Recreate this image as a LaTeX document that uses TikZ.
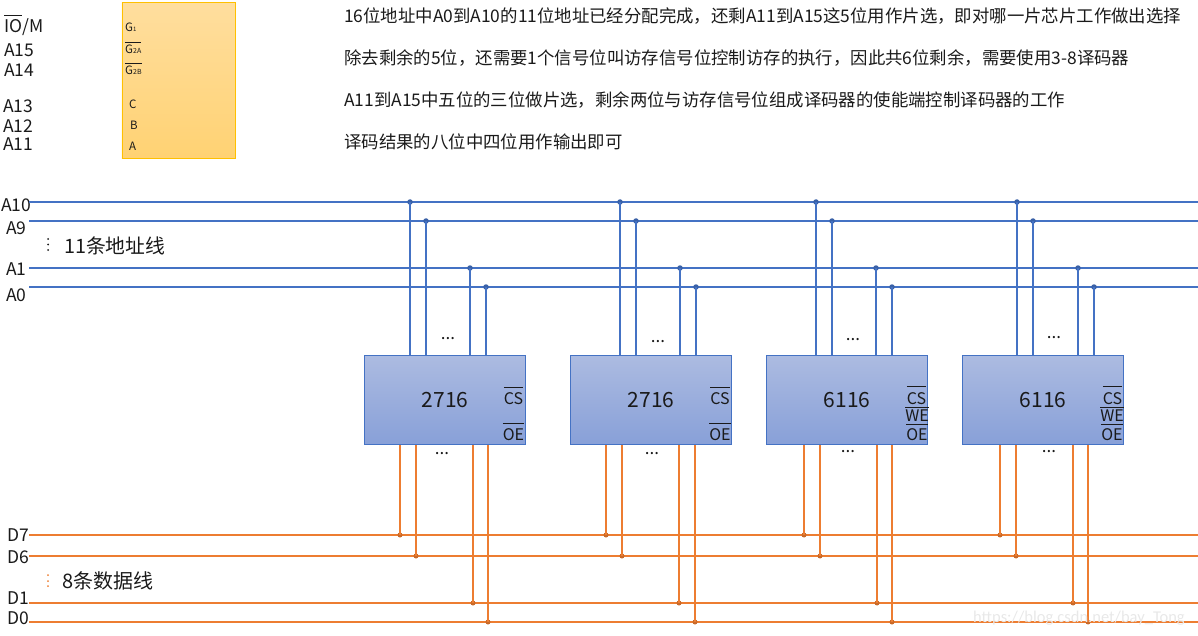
\documentclass[tikz,border=0pt]{standalone}
\usepackage{fontspec}
\setmainfont{Noto Sans CJK SC}
\newfontfamily\latinf{Carlito}
\usetikzlibrary{calc}
\definecolor{busblue}{HTML}{4472C4}
\definecolor{busorange}{HTML}{ED7D31}
\definecolor{inktext}{HTML}{1A1A1A}
\definecolor{chiptop}{HTML}{ACBBE1}
\definecolor{chipbot}{HTML}{88A0D8}
\definecolor{dectop}{HTML}{FFDE9E}
\definecolor{decbot}{HTML}{FFD273}
\definecolor{decedge}{HTML}{FFC000}
\newcommand{\ovl}[2][4pt]{\leavevmode\vbox{\hrule height .6pt\kern#1\hbox{#2}}}
\tikzset{
  x=1pt,y=-1pt,
  txt/.style={inner sep=0pt,text=inktext,font=\fontsize{17.5}{18}\selectfont},
  lab/.style={txt,anchor=west},
  noteline/.style={txt,anchor=west,font=\fontsize{17.4}{18}\selectfont},
  pin/.style={txt,font=\fontsize{16}{16}\selectfont},
  smallpin/.style={txt,anchor=west,font=\fontsize{11.5}{12}\selectfont},
  addrbus/.style={draw=busblue,line width=1.5pt},
  databus/.style={draw=busorange,line width=1.5pt},
  chipbox/.style={draw=busblue,line width=.8pt,top color=chiptop,bottom color=chipbot,minimum width=160.5pt,minimum height=89pt,inner sep=0pt,anchor=north west},
  dotb/.style={circle,fill=busblue!85!black,inner sep=0pt,minimum size=5.5pt},
  doto/.style={circle,fill=busorange!85!black,inner sep=0pt,minimum size=5pt},
}
\begin{document}
\begin{tikzpicture}
\useasboundingbox (0,0) rectangle (1198,636);
% decoder
\node[draw=decedge,line width=.8pt,top color=dectop,bottom color=decbot,minimum width=113pt,minimum height=156pt,inner sep=0pt,anchor=north west] (dec) at (121.5,2.5) {};
\node[smallpin] (g1) at (125,27) {G{\fontsize{6}{6}\selectfont 1}};
\node[smallpin] (g2a) at (125,48) {\ovl[2.5pt]{G{\fontsize{7}{7}\selectfont 2A}}};
\node[smallpin] (g2b) at (125,69) {\ovl[2.5pt]{G{\fontsize{7}{7}\selectfont 2B}}};
\node[smallpin] (pc) at (129,104) {C};
\node[smallpin] (pb) at (130,125) {B};
\node[smallpin] (pa) at (129,146) {A};
% left labels
\node[lab] (iom) at (4,25) {\ovl[4pt]{IO}/M};
\node[lab] (a15) at (4,50) {A15};
\node[lab] (a14) at (4,70) {A14};
\node[lab] (a13) at (3,106) {A13};
\node[lab] (a12) at (3,126) {A12};
\node[lab] (a11) at (3,144) {A11};
% notes
\node[noteline] (n1) at (344,16) {16位地址中A0到A10的11位地址已经分配完成，还剩A11到A15这5位用作片选，即对哪一片芯片工作做出选择};
\node[noteline] (n2) at (344,58) {除去剩余的5位，还需要1个信号位叫访存信号位控制访存的执行，因此共6位剩余，需要使用3-8译码器};
\node[noteline] (n3) at (344,100) {A11到A15中五位的三位做片选，剩余两位与访存信号位组成译码器的使能端控制译码器的工作};
\node[noteline] (n4) at (344,142) {译码结果的八位中四位用作输出即可};
% bus labels and ends
\foreach \n/\lx/\ly/\by/\sx in {A10/1/205/202/29,A9/6/228/221/29,A1/6/269/268/29,A0/6/295/287/29}{
  \node[lab] (l\n) at (\lx,\ly) {\n};
  \coordinate (s\n) at (\sx,\by);
  \coordinate (e\n) at (1198,\by);
  \draw[addrbus] (s\n) -- (e\n);
}
\foreach \n/\ly/\by in {D7/535/535,D6/557/556,D1/598/603,D0/618/622}{
  \node[lab] (l\n) at (7,\ly) {\n};
  \coordinate (s\n) at (29,\by);
  \coordinate (e\n) at (1198,\by);
  \draw[databus] (s\n) -- (e\n);
}
\node[txt,anchor=west,font=\fontsize{19.8}{20}\selectfont] (addrnote) at (64,246) {11条地址线};
\node[txt,anchor=west,font=\fontsize{20}{20}\selectfont] (datanote) at (62,581) {8条数据线};
\foreach \yy in {239,244.5,250}{\fill[inktext] (48,\yy) circle (1pt);}
\foreach \yy in {575,581,586}{\fill[busorange] (48,\yy) circle (1pt);}
% chips
\node[chipbox] (c1) at (364,355) {};
\node[chipbox] (c2) at (570,355) {};
\node[chipbox] (c3) at (766,355) {};
\node[chipbox] (c4) at (962,355) {};
\node[txt,font=\fontsize{21}{24}\selectfont] (t1) at (445,400.5) {2716};
\node[txt,font=\fontsize{21}{24}\selectfont] (t2) at (651,400.5) {2716};
\node[txt,font=\fontsize{21}{24}\selectfont] (t3) at (847,400.5) {6116};
\node[txt,font=\fontsize{21}{24}\selectfont] (t4) at (1043,400.5) {6116};
\node[pin,anchor=base] (cs1) at (513.5,404) {\ovl{CS}};
\node[pin,anchor=base] (oe1) at (513.5,440) {\ovl{OE}};
\node[pin,anchor=base] (cs2) at (720,404) {\ovl{CS}};
\node[pin,anchor=base] (oe2) at (720,440) {\ovl{OE}};
\node[pin,anchor=base] (cs3) at (916.5,404) {\ovl[5pt]{CS}};
\node[pin,anchor=base] (we3) at (917,421) {\ovl[1.5pt]{WE}};
\node[pin,anchor=base] (oe3) at (917,440) {\ovl[3pt]{OE}};
\node[pin,anchor=base] (cs4) at (1112.5,404) {\ovl[5pt]{CS}};
\node[pin,anchor=base] (we4) at (1112,421) {\ovl[1.5pt]{WE}};
\node[pin,anchor=base] (oe4) at (1112,440) {\ovl[3pt]{OE}};
% address stubs
\foreach \c/\x/\b/\id in {c1/410/A10/a,c1/426/A9/b,c1/470/A1/c,c1/486/A0/d,
                          c2/620/A10/e,c2/636/A9/f,c2/680/A1/g,c2/696/A0/h,
                          c3/816/A10/i,c3/832/A9/j,c3/876/A1/k,c3/892/A0/l,
                          c4/1017/A10/m,c4/1033/A9/n,c4/1078/A1/o,c4/1094/A0/p}{
  \node[dotb] (ja\id) at (\x,0 |- s\b) {};
  \draw[addrbus] (ja\id.center) -- (ja\id.center |- \c.north);
}
% data stubs
\foreach \c/\x/\b/\id in {c1/400/D7/a,c1/416/D6/b,c1/473/D1/c,c1/488/D0/d,
                          c2/606/D7/e,c2/622/D6/f,c2/679/D1/g,c2/695/D0/h,
                          c3/804/D7/i,c3/820/D6/j,c3/877/D1/k,c3/892/D0/l,
                          c4/1000/D7/m,c4/1016/D6/n,c4/1073/D1/o,c4/1088/D0/p}{
  \node[doto] (jd\id) at (\x,0 |- s\b) {};
  \draw[databus] (jd\id.center) -- (jd\id.center |- \c.south);
}
% ellipses
\foreach \x/\y/\id in {448/339/a,658/342/b,853/340/c,1054/338/d,442/454/e,652/454/f,848/452/g,1049/452/h}{
  \node[txt,font=\fontsize{17}{17}\selectfont] (el\id) at (\x,\y) {...};
}
% watermark
\node[txt,text=black!9,anchor=west,font=\latinf\fontsize{16.5}{20}\selectfont] (wm) at (973,618) {https://blog.csdn.net/bay\_Tong};
\end{tikzpicture}
\end{document}
